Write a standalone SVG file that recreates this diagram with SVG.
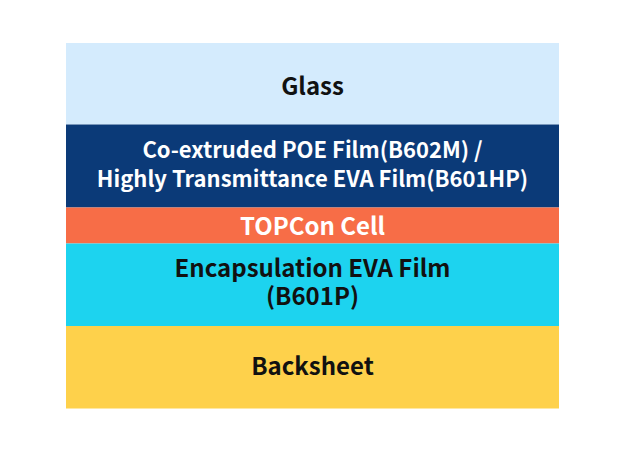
<svg xmlns="http://www.w3.org/2000/svg" width="640" height="456" viewBox="0 0 640 456">
<style>
text{font-family:"Noto Sans CJK SC","Noto Sans",sans-serif;font-weight:bold;font-size:24px;text-anchor:middle}
.d{fill:#111111}
.w{fill:#ffffff}
.s{font-size:22px}
</style>
<rect width="640" height="456" fill="#ffffff"/>
<g id="glass"><rect x="66" y="43" width="493" height="81.5" fill="#D4EBFD"/><text class="d" x="312.5" y="94.5">Glass</text></g>
<g id="poe"><rect x="66" y="124.5" width="493" height="83" fill="#0B3A78"/><text class="w s" x="312.5" y="158">Co-extruded POE Film(B602M) /</text><text class="w s" x="312.5" y="187">Highly Transmittance EVA Film(B601HP)</text></g>
<g id="cell"><rect x="66" y="207.5" width="493" height="36" fill="#F76D47"/><text class="w" x="312.5" y="235">TOPCon Cell</text></g>
<g id="eva"><rect x="66" y="243.5" width="493" height="82.5" fill="#1DD3EF"/><text class="d" x="312.5" y="277">Encapsulation EVA Film</text><text class="d" x="312.5" y="304.5">(B601P)</text></g>
<g id="backsheet"><rect x="66" y="326" width="493" height="82.5" fill="#FED14B"/><text class="d" x="312.5" y="375">Backsheet</text></g>
<g id="connectors"></g>
</svg>
